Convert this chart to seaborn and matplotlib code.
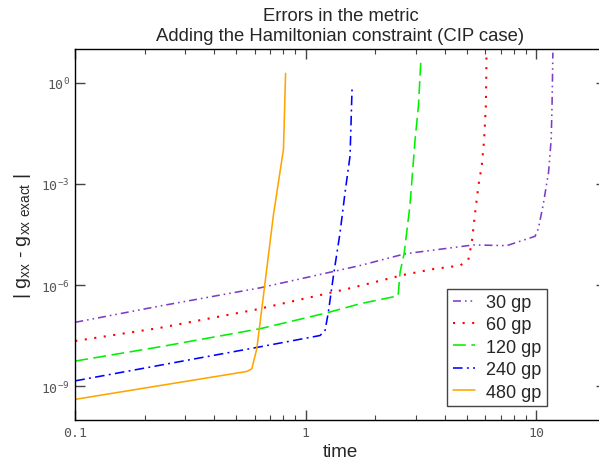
import matplotlib
matplotlib.use("Agg")
import matplotlib.pyplot as plt
import pandas as pd
import seaborn as sns
from matplotlib.ticker import FixedLocator, FixedFormatter, NullLocator, NullFormatter

sns.set_style("ticks")
plt.rcParams["font.family"] = ["Liberation Sans", "DejaVu Sans"]
plt.rcParams["mathtext.fontset"] = "custom"
plt.rcParams["mathtext.rm"] = "Liberation Sans"
plt.rcParams["mathtext.default"] = "regular"

# ---------------- data ----------------
series = ["30 gp", "60 gp", "120 gp", "240 gp", "480 gp"]

t_30 = [0.1, 0.233, 0.634, 1.72, 2.70, 5.33, 7.45, 9.88, 10.2, 10.7, 11.3, 11.6, 11.7, 11.8]
e_30 = [7.9e-8, 2.4e-7, 8.3e-7, 3.8e-6, 8.5e-6, 1.55e-5, 1.48e-5, 2.8e-5, 4.7e-5, 2.3e-4,
        2.2e-3, 2.1e-2, 0.20, 7.8]

t_60 = [0.1, 0.233, 0.603, 1.526, 2.65, 3.58, 4.67, 5.07, 5.25, 5.43, 5.61, 5.80, 5.94, 6.04, 6.07, 6.08]
e_60 = [2.2e-8, 5.4e-8, 1.86e-7, 7.8e-7, 2.0e-6, 3.0e-6, 3.8e-6, 5.6e-6, 1.86e-5, 1.45e-4,
        8.9e-4, 3.5e-3, 2.1e-2, 0.20, 2.0, 10.0]

t_120 = [0.1, 0.233, 0.634, 1.233, 1.72, 2.515, 2.565, 2.67, 2.83, 2.98, 3.08, 3.155]
e_120 = [5.6e-9, 1.48e-8, 5.1e-8, 1.5e-7, 2.8e-7, 4.8e-7, 2.45e-6, 8.5e-6, 2.3e-4, 2.1e-2, 0.20, 4.4]

t_240 = [0.1, 0.233, 0.634, 1.153, 1.213, 1.253, 1.318, 1.409, 1.48, 1.556, 1.588]
e_240 = [1.45e-9, 4.2e-9, 1.48e-8, 3.2e-8, 4.6e-8, 1.6e-7, 1.9e-6, 3.7e-5, 5.6e-4, 6.8e-3, 0.74]

t_480 = [0.1, 0.233, 0.555, 0.583, 0.613, 0.655, 0.723, 0.80, 0.809, 0.817]
e_480 = [4.1e-10, 1.05e-9, 2.75e-9, 3.3e-9, 1.3e-8, 4.9e-7, 1.15e-4, 1.07e-2, 0.16, 1.9]

x_major = [0.1, 1, 10]
x_major_labels = ["0.1", "1", "10"]
x_minor = [0.2, 0.3, 0.4, 0.5, 0.6, 0.7, 0.8, 0.9, 2, 3, 4, 5, 6, 7, 8, 9, 20]
y_major = [1e-9, 1e-6, 1e-3, 1.0]
y_major_labels = [r"$10^{-9}$", r"$10^{-6}$", r"$10^{-3}$", r"$10^{0}$"]

# ---------------- build the table ----------------
frames = []
for name, t, e in zip(series, [t_30, t_60, t_120, t_240, t_480],
                      [e_30, e_60, e_120, e_240, e_480]):
    frames.append(pd.DataFrame({"time": t, "err": e, "grid": name}))
df = pd.concat(frames, ignore_index=True)

palette = {"30 gp": "#7d3cc8", "60 gp": "#ff0000", "120 gp": "#00f000",
           "240 gp": "#0000ff", "480 gp": "#ffa500"}
dashes = {"30 gp": (5, 2.5, 1, 2.5, 1, 2.5), "60 gp": (1, 3.6),
          "120 gp": (8, 3.5), "240 gp": (6, 2.7, 1.2, 2.7), "480 gp": ""}

fig = plt.figure(figsize=(5.99, 4.64), dpi=100)
ax = fig.add_axes([75.3 / 599, 43 / 464, 530.4 / 599, 371 / 464])
ax.set_xscale("log")
ax.set_yscale("log")

sns.lineplot(data=df, x="time", y="err", hue="grid", style="grid",
             hue_order=series, style_order=series,
             palette=palette, dashes=dashes, sort=False, estimator=None,
             linewidth=1.15, legend=False, ax=ax)

lines = ax.get_lines()[:5]
for ln, name in zip(lines, series):
    if name == "60 gp":
        ln.set_linewidth(1.5)

ax.set_xlim(0.1, 20)
ax.set_ylim(1e-10, 10)

ax.xaxis.set_major_locator(FixedLocator(x_major))
ax.xaxis.set_major_formatter(FixedFormatter(x_major_labels))
ax.xaxis.set_minor_locator(FixedLocator(x_minor))
ax.xaxis.set_minor_formatter(NullFormatter())
ax.yaxis.set_major_locator(FixedLocator(y_major))
ax.yaxis.set_major_formatter(FixedFormatter(y_major_labels))
ax.yaxis.set_minor_locator(NullLocator())

ax.tick_params(which="both", direction="in", top=True, right=True, color="#444444")
ax.tick_params(which="major", length=7, width=1.0, pad=4)
ax.tick_params(which="minor", length=3.5, width=0.8)
for lab in ax.get_xticklabels() + ax.get_yticklabels():
    lab.set_fontfamily("DejaVu Sans Mono")
    lab.set_fontsize(9.5)
    lab.set_color("#555555")

for sp in ax.spines.values():
    sp.set_color("black")
    sp.set_linewidth(1.0)

ax.set_title("Errors in the metric\nAdding the Hamiltonian constraint (CIP case)",
             fontsize=13.3, pad=6.5, linespacing=1.2)
ax.set_xlabel("time", fontsize=13.5)
ax.xaxis.set_label_coords(0.5, -0.063)
ax.xaxis.label.set_va("top")
ax.set_ylabel(r"| g$_{\rm xx}$ - g$_{\rm xx\ exact}$ |", fontsize=14)
ax.yaxis.set_label_coords(-0.08, 0.5)

leg = ax.legend(handles=lines, labels=series, loc="lower right",
                bbox_to_anchor=(0.8888, 0.0377), fontsize=13, frameon=True,
                fancybox=False, framealpha=1, edgecolor="#444444",
                handlelength=1.25, handletextpad=0.6, labelspacing=0.3,
                borderpad=0.3, borderaxespad=0)
leg.get_frame().set_linewidth(1.0)

fig.savefig("out.png", dpi=100)
